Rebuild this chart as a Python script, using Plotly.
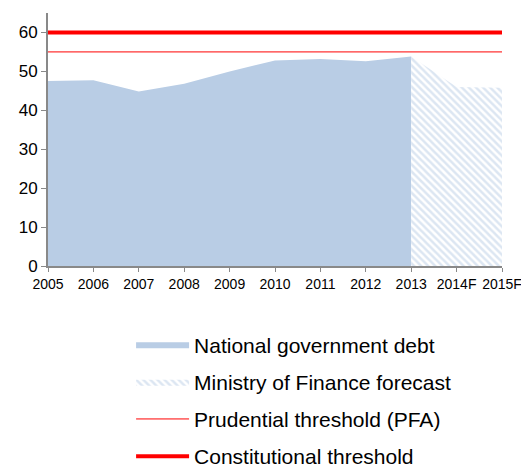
import plotly.graph_objects as go

years = ["2005", "2006", "2007", "2008", "2009", "2010", "2011", "2012", "2013", "2014F", "2015F"]
debt_years = years[:9]
debt_values = [47.5, 47.7, 44.8, 46.8, 50.0, 52.8, 53.2, 52.6, 53.8]
forecast_years = years[8:]
forecast_values = [53.8, 46.0, 45.8]
prudential = [55] * len(years)
constitutional = [60] * len(years)

blue = "#b9cde5"
red = "#ff0000"

fig = go.Figure()
fig.add_trace(go.Scatter(
    x=debt_years, y=debt_values, name="National government debt",
    mode="lines", line=dict(width=0, color=blue), fill="tozeroy", fillcolor=blue,
    legendgroup="a"))
fig.add_trace(go.Scatter(
    x=forecast_years, y=forecast_values, name="Ministry of Finance forecast",
    mode="lines", line=dict(width=0, color=blue), fill="tozeroy", fillcolor="white",
    fillpattern=dict(shape="\\", fgcolor=blue, bgcolor="white", size=5, solidity=0.5),
    legendgroup="b"))
fig.add_trace(go.Scatter(
    x=years, y=prudential, name="Prudential threshold (PFA)",
    mode="lines", line=dict(width=1, color=red), legendgroup="c"))
fig.add_trace(go.Scatter(
    x=years, y=constitutional, name="Constitutional threshold",
    mode="lines", line=dict(width=4, color=red), legendgroup="d"))

fig.update_layout(
    width=521, height=468,
    margin=dict(l=48, r=19, t=13, b=202, autoexpand=False),
    paper_bgcolor="white", plot_bgcolor="white",
    font=dict(family="Liberation Sans, Arial, sans-serif", color="#000000"),
    showlegend=True,
    legend=dict(
        x=0.183, y=-0.23, xanchor="left", yanchor="top",
        font=dict(size=21), tracegroupgap=7, traceorder="grouped",
        itemwidth=53, bgcolor="rgba(0,0,0,0)"),
)
fig.update_xaxes(
    type="category", categoryorder="array", categoryarray=years,
    range=[0, 10], showgrid=False, zeroline=False,
    showline=True, linecolor="#898989", linewidth=2,
    ticks="outside", ticklen=4, tickcolor="#898989", tickwidth=1,
    tickfont=dict(size=14), tickangle=0)
fig.update_yaxes(
    range=[0, 65], tickvals=[0, 10, 20, 30, 40, 50, 60],
    showgrid=False, zeroline=False,
    showline=True, linecolor="#898989", linewidth=2,
    ticks="outside", ticklen=5, tickcolor="#898989", tickwidth=1,
    tickfont=dict(size=17))

fig.write_html("out.html", config={"displayModeBar": False},
               post_script="document.body.style.margin='0';document.body.style.padding='0';")
